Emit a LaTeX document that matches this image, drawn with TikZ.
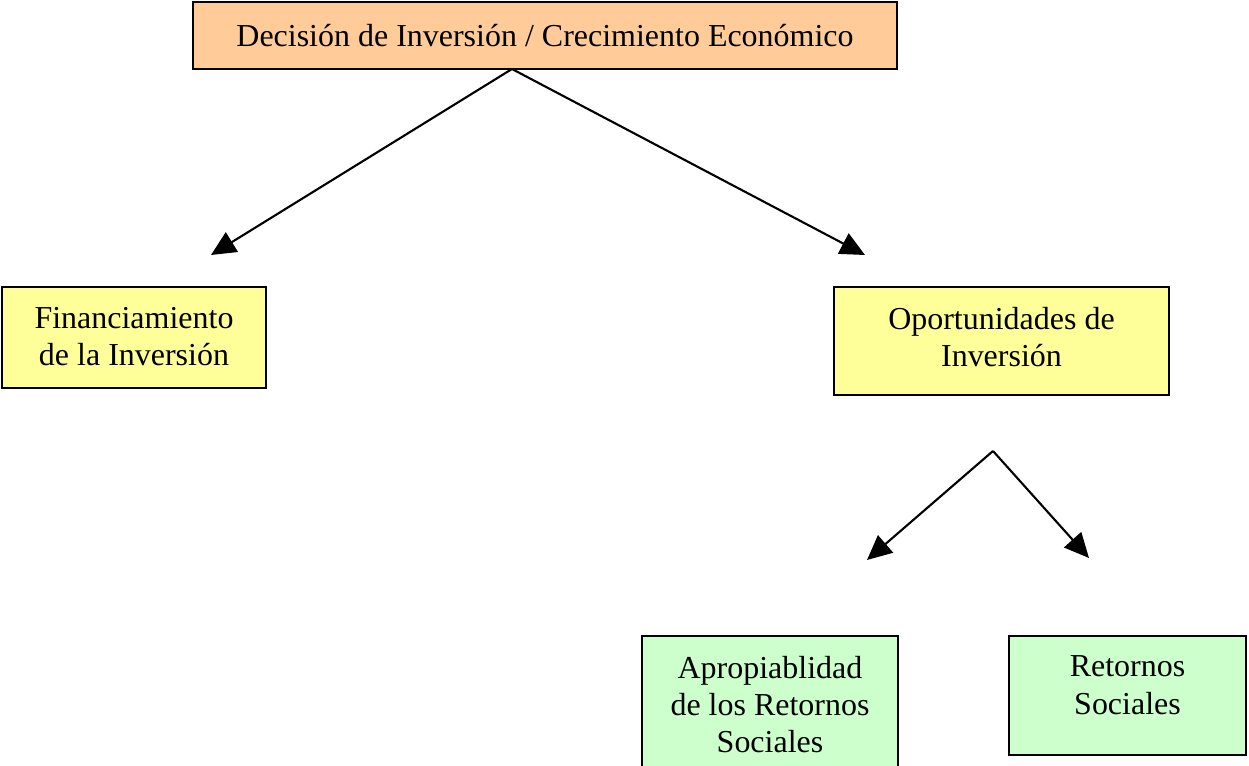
\documentclass[tikz,border=0pt]{standalone}
\usepackage{fontspec}
\setmainfont{Liberation Serif}
\usetikzlibrary{arrows.meta,positioning}
\definecolor{peach}{HTML}{FFCC99}
\definecolor{lemon}{HTML}{FFFF99}
\definecolor{mint}{HTML}{CCFFCC}
\tikzset{
  bfont/.style={font=\fontsize{18.2}{21.1}\selectfont},
  bnode/.style={rectangle,draw=black,line width=1.2pt,inner sep=0pt,bfont},
  btext/.style={align=center,inner sep=0pt,anchor=north,yshift=-11.8pt,bfont},
  topnode/.style={bnode,fill=peach},
  midnode/.style={bnode,fill=lemon},
  lownode/.style={bnode,fill=mint},
  aedge/.style={-{Triangle[length=14pt,width=13pt]},line width=1.2pt,color=black},
}
\begin{document}
\begin{tikzpicture}[x=0.02cm,y=-0.02cm]
  \useasboundingbox (0,0) rectangle (1249,766);

  \node[topnode,minimum width=14.08cm,minimum height=1.34cm] (dec) at (545,35.5)
    {Decisión de Inversión / Crecimiento Económico};
  \node[midnode,minimum width=5.28cm,minimum height=2.02cm,
    label={[btext]north:{Financiamiento\\de la Inversión}}] (fin) at (134,337.5) {};
  \node[midnode,minimum width=6.7cm,minimum height=2.16cm,
    label={[btext]north:{Oportunidades de\\Inversión}}] (opo) at (1001.5,341) {};
  \node[lownode,minimum width=5.12cm,minimum height=2.76cm,
    label={[btext]north:{Apropiablidad\\de los Retornos\\Sociales}}] (apr) at (770,705) {};
  \node[lownode,minimum width=4.74cm,minimum height=2.38cm,
    label={[btext]north:{Retornos\\Sociales}}] (ret) at (1127.5,695.5) {};

  \coordinate (d0) at (512,69);
  \coordinate (f0) at (211,255);
  \coordinate (o0) at (865,255);
  \coordinate (r0) at (993,451);
  \coordinate (a1) at (867,560);
  \coordinate (r1) at (1089,558);

  \draw[aedge] (d0) -- (f0);
  \draw[aedge] (d0) -- (o0);
  \draw[aedge] (r0) -- (a1);
  \draw[aedge] (r0) -- (r1);
\end{tikzpicture}
\end{document}
